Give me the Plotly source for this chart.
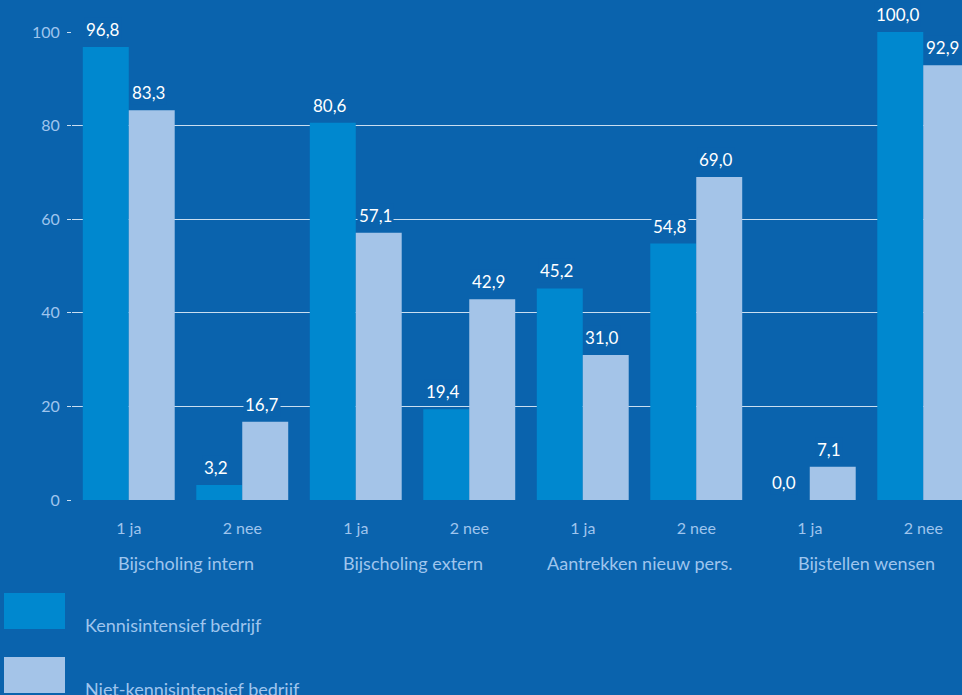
import plotly.graph_objects as go

groups = ["Bijscholing intern", "Bijscholing extern", "Aantrekken nieuw pers.", "Bijstellen wensen"]
answers = ["1 ja", "2 nee"]
series_names = ["Kennisintensief bedrijf", "Niet-kennisintensief bedrijf"]
kennis = [96.8, 3.2, 80.6, 19.4, 45.2, 54.8, 0.0, 100.0]
niet_kennis = [83.3, 16.7, 57.1, 42.9, 31.0, 69.0, 7.1, 92.9]
y_ticks = [0, 20, 40, 60, 80, 100]

BG = "#0a63ad"
DARK = "#0088cf"
LIGHT = "#a4c4e8"
TICK = "#9fc5ed"
GRID = "rgba(235,243,252,0.85)"
FONT = "Lato"

W, H = 962, 695
L, R, T = 72, 0, 32
ph = 468
B = H - T - ph
cat_px = 113.5
pw = int(round(8 * cat_px))  # plot area extends past the right window edge
W_fig = L + pw

def px_x(px):
    return (px - L) / pw

def px_y(py):
    return (T + ph - py) / ph

xs = list(range(len(kennis)))
ticktext = [answers[i % 2] for i in xs]

fig = go.Figure()
colors = [DARK, LIGHT]
for s, (name, vals) in enumerate(zip(series_names, [kennis, niet_kennis])):
    fig.add_trace(go.Bar(x=xs, y=vals, name=name, marker=dict(color=colors[s], line=dict(width=0)),
                         showlegend=False, hoverinfo="skip"))

ann = []
off = [-0.2, 0.2]
for s, vals in enumerate([kennis, niet_kennis]):
    for i, v in enumerate(vals):
        ann.append(dict(x=i + off[s] - 0.03, y=v, xref="x", yref="y", text=f"{v:.1f}".replace(".", ","),
                        showarrow=False, yanchor="bottom", yshift=5, bgcolor=BG, borderpad=1,
                        font=dict(family=FONT, size=17, color="white")))
for g, name in enumerate(groups):
    ann.append(dict(x=2 * g + 0.5, y=0, xref="x", yref="paper", text=name, showarrow=False,
                    yanchor="middle", yshift=-63, font=dict(family=FONT, size=18, color=TICK)))

shapes = []
for s, name in enumerate(series_names):
    y_top = 593 + 64 * s
    shapes.append(dict(type="rect", xref="paper", yref="paper",
                       x0=px_x(4), x1=px_x(65), y0=px_y(y_top), y1=px_y(y_top + 36),
                       fillcolor=colors[s], line=dict(width=0)))
    ann.append(dict(xref="paper", yref="paper", x=px_x(83), y=px_y(y_top + 32),
                    xanchor="left", yanchor="middle", text=name, showarrow=False,
                    font=dict(family=FONT, size=18, color=TICK)))

fig.update_layout(
    width=W_fig, height=H, margin=dict(l=L, r=R, t=T, b=B),
    paper_bgcolor=BG, plot_bgcolor=BG,
    barmode="group", bargap=0.19, bargroupgap=0,
    annotations=ann, shapes=shapes,
    xaxis=dict(tickvals=xs, ticktext=ticktext, range=[-0.5, 7.5], showgrid=False,
               zeroline=False, showline=False, ticks="", ticklabelstandoff=17,
               tickfont=dict(family=FONT, size=16, color=TICK)),
    yaxis=dict(range=[0, 100], tickvals=y_ticks, showgrid=True, gridcolor=GRID, gridwidth=1,
               zeroline=False, showline=False, ticks="outside", ticklen=4, tickcolor=GRID,
               ticklabelstandoff=4,
               tickfont=dict(family=FONT, size=16, color=TICK)),
)

post = ("document.body.style.margin='0';document.body.style.overflow='hidden';"
        "document.body.style.background='%s';" % BG)
fig.write_html("out.html", post_script=post, config={"displayModeBar": False})
